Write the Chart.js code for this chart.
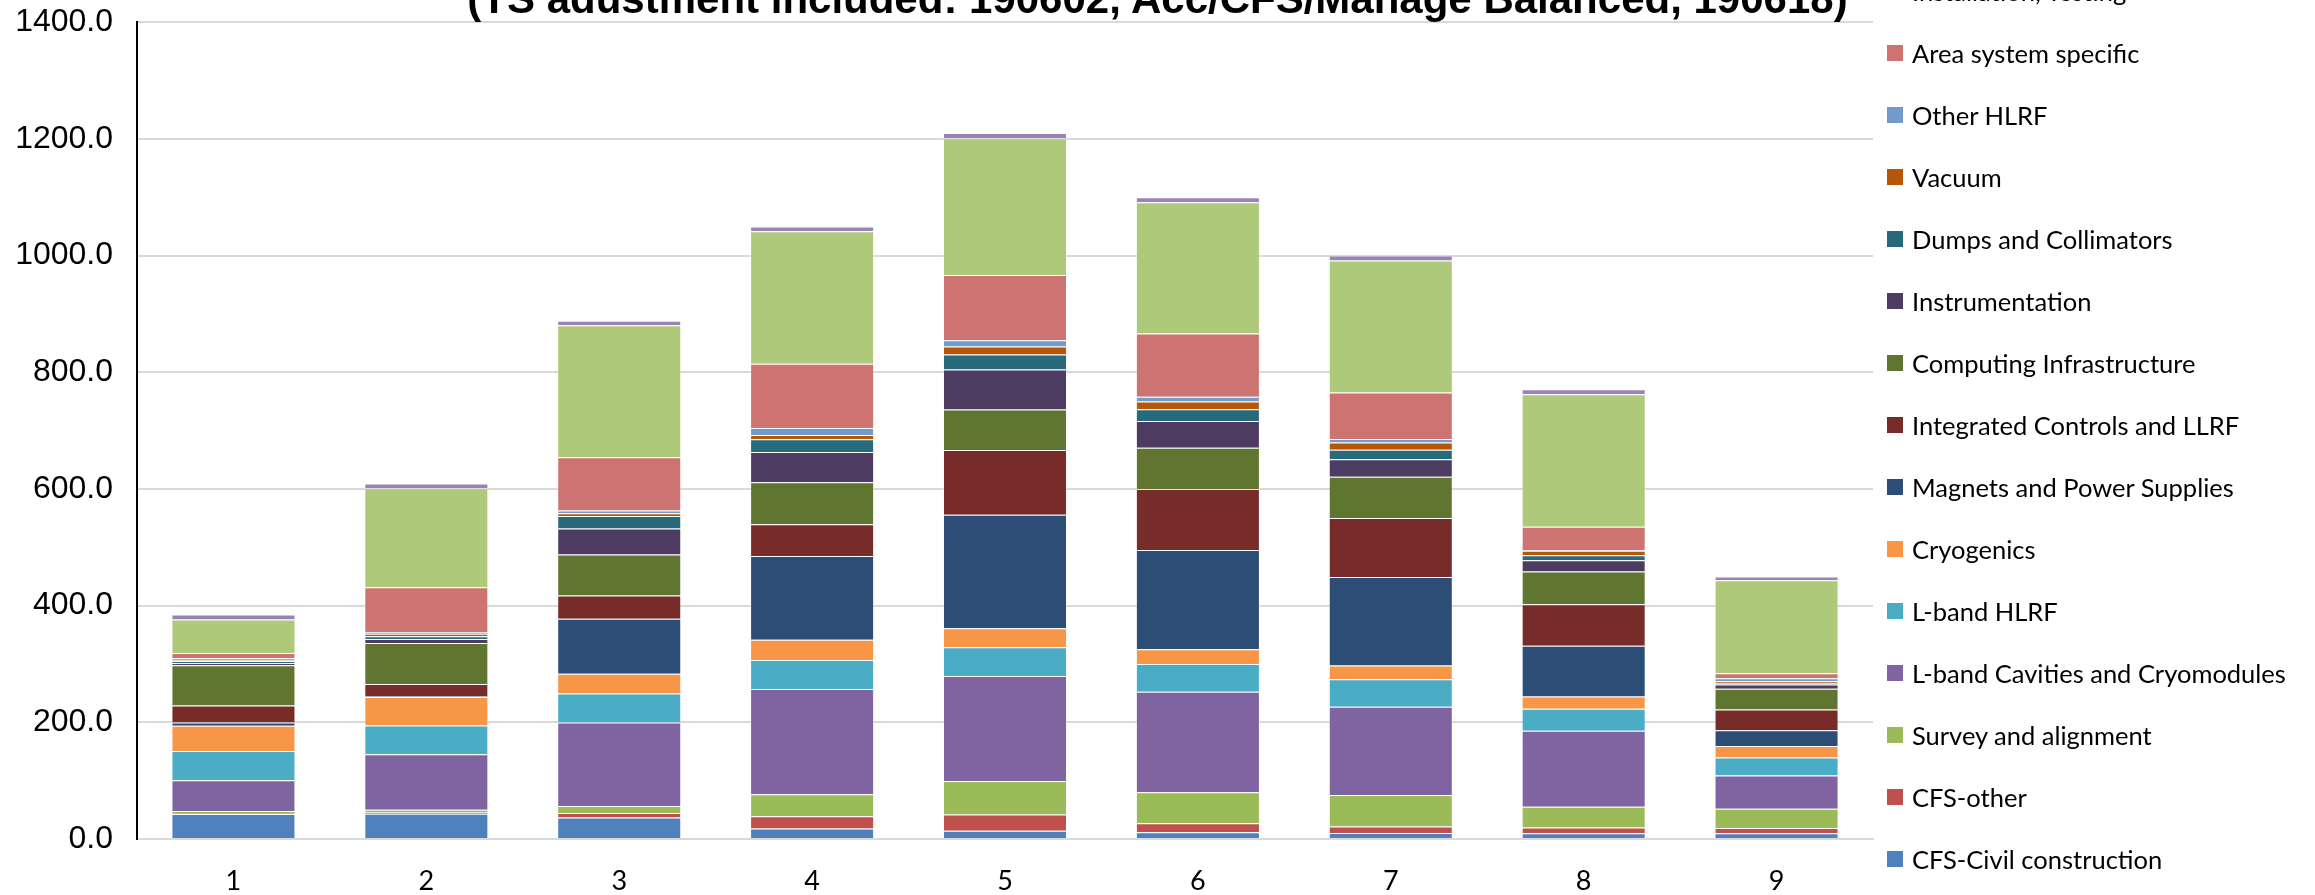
<!DOCTYPE html>
<html>
<head>
<meta charset="utf-8">
<script src="https://cdn.jsdelivr.net/npm/chart.js@4.4.1/dist/chart.umd.min.js"></script>
<style>
    html, body { margin: 0; padding: 0; background: #fff; overflow: hidden; }
    #wrap { position: relative; width: 2315px; height: 895px; overflow: hidden; }
    #chart { position: absolute; left: 0; top: -21px; }
    #title {
        position: absolute; left: 0; top: -22px; width: 2315px;
        text-align: center; font: bold 42px "Liberation Sans", Arial, sans-serif;
        line-height: 42px; color: #000; white-space: nowrap;
    }
    #legend {
        position: absolute; left: 1887px; top: -102px; margin: 0; padding: 0; list-style: none;
        font: 25.5px Lato, sans-serif; color: #000;
    }
    #legend li { height: 62px; display: flex; align-items: center; white-space: nowrap; }
    #legend span.box { width: 16px; height: 16px; margin-right: 9px; flex: none; }
</style>
</head>
<body>
<div id="wrap">
    <canvas id="chart" width="2315" height="916"></canvas>
    <div id="title">(TS adustment included: 190602, Acc/CFS/Manage Balanced, 190618)</div>
    <ul id="legend"></ul>
</div>
<script>
const years = ['1', '2', '3', '4', '5', '6', '7', '8', '9'];

// stacked from the bottom up
const civil       = [42.7, 43.3, 37.0, 18.2, 14.2, 11.4, 10.2, 9.7, 9.7];
const cfsOther    = [1.7, 2.2, 7.4, 21.0, 28.0, 15.4, 11.4, 10.2, 9.0];
const survey      = [3.4, 4.6, 12.0, 37.6, 57.0, 53.5, 54.0, 35.3, 33.0];
const cavities    = [53.0, 95.0, 143.4, 180.4, 180.0, 172.0, 151.0, 130.4, 57.0];
const lbandHlrf   = [50.0, 49.5, 49.6, 49.6, 49.5, 47.8, 47.2, 37.6, 30.8];
const cryo        = [43.2, 49.0, 34.0, 34.7, 32.5, 25.0, 23.4, 21.0, 20.0];
const magnets     = [5.7, 1.0, 94.0, 143.4, 194.5, 170.2, 152.0, 87.1, 26.8];
const controls    = [29.0, 21.2, 39.8, 54.7, 111.0, 104.7, 100.8, 71.2, 35.8];
const computing   = [69.0, 70.0, 70.6, 71.7, 69.3, 70.5, 71.0, 55.8, 35.3];
const instrument  = [4.0, 6.8, 44.4, 52.2, 68.7, 46.0, 30.0, 19.4, 7.4];
const dumps       = [3.0, 5.0, 21.6, 21.6, 25.6, 19.9, 16.0, 8.5, 2.3];
const vacuum      = [2.0, 4.0, 4.6, 7.4, 13.7, 13.6, 12.5, 8.0, 3.4];
const otherHlrf   = [3.0, 3.4, 4.5, 11.9, 10.8, 8.0, 6.3, 1.0, 5.2];
const areaSpec    = [9.0, 76.3, 91.5, 110.3, 111.9, 108.5, 79.5, 40.0, 8.5];
const installTest = [57.5, 170.0, 226.0, 227.2, 234.6, 225.0, 226.2, 227.0, 159.4];
const management  = [8.5, 8.0, 8.0, 8.0, 8.6, 8.5, 8.5, 8.5, 6.3];

const series = [
    ['CFS-Civil construction', civil, '#4F81BD'],
    ['CFS-other', cfsOther, '#C0504D'],
    ['Survey and alignment', survey, '#9BBB59'],
    ['L-band Cavities and Cryomodules', cavities, '#8064A2'],
    ['L-band HLRF', lbandHlrf, '#4BACC6'],
    ['Cryogenics', cryo, '#F79646'],
    ['Magnets and Power Supplies', magnets, '#2C4D75'],
    ['Integrated Controls and LLRF', controls, '#772C2A'],
    ['Computing Infrastructure', computing, '#5F7530'],
    ['Instrumentation', instrument, '#4D3B62'],
    ['Dumps and Collimators', dumps, '#276A7C'],
    ['Vacuum', vacuum, '#B65708'],
    ['Other HLRF', otherHlrf, '#729ACA'],
    ['Area system specific', areaSpec, '#CD7371'],
    ['Installation, Testing', installTest, '#AFC97A'],
    ['Management', management, '#9983B5']
];

const chart = new Chart(document.getElementById('chart'), {
    type: 'bar',
    data: {
        labels: years,
        datasets: series.map(([label, data, color]) => ({
            label: label,
            data: data,
            backgroundColor: color,
            borderColor: 'rgba(255,255,255,0.35)',
            borderWidth: 1,
            categoryPercentage: 1.0,
            barPercentage: 0.643
        }))
    },
    options: {
        responsive: false,
        animation: false,
        layout: { padding: { top: 0, right: 442, bottom: 0, left: 0 } },
        plugins: {
            legend: { display: false },
            title: { display: false },
            tooltip: { enabled: false }
        },
        scales: {
            x: {
                stacked: true,
                grid: { display: false },
                border: { color: '#D9D9D9', width: 2 },
                ticks: { color: '#000', font: { family: 'Lato', size: 27 }, padding: 18 },
                afterFit: s => { s.height = 56; }
            },
            y: {
                stacked: true,
                min: 0,
                max: 1400,
                grid: { color: '#D9D9D9', lineWidth: 2, drawTicks: false },
                border: { color: '#000', width: 2 },
                ticks: {
                    stepSize: 200,
                    color: '#000',
                    padding: 24,
                    font: { family: 'Liberation Sans', size: 32 },
                    callback: v => v.toFixed(1)
                },
                afterFit: s => { s.width = 137; }
            }
        }
    }
});

// legend built from the chart's own legend items, top = last dataset
const items = Chart.defaults.plugins.legend.labels.generateLabels(chart).reverse();
const ul = document.getElementById('legend');
items.forEach(item => {
    const li = document.createElement('li');
    li.innerHTML = `<span class="box" style="background:${item.fillStyle}"></span>${item.text}`;
    ul.appendChild(li);
});
</script>
</body>
</html>
